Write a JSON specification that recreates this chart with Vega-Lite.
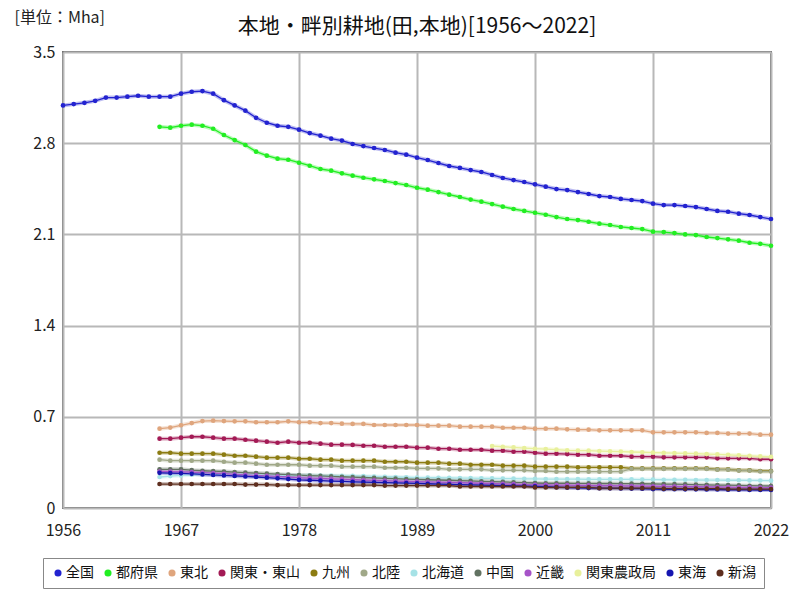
{
  "$schema": "https://vega.github.io/schema/vega-lite/v6.json",
  "autosize": {"type": "none"},
  "width": 708,
  "height": 456,
  "padding": {"left": 63, "top": 52, "right": 29, "bottom": 92},
  "background": "white",
  "title": {"text": "本地・畔別耕地(田,本地)[1956～2022]", "fontSize": 21, "font": "Noto Sans CJK JP", "fontWeight": "normal", "color": "#111", "offset": 0, "dy": 28, "anchor": "middle"},
  "config": {
    "view": {"stroke": "#707070", "strokeWidth": 2},
    "axis": {"labelFont": "Noto Sans CJK JP", "labelFontSize": 16, "labelColor": "#222", "gridColor": "#b8b8b8", "gridWidth": 2, "domain": false, "ticks": false}
  },
  "data": {"values": [
    {"y":1956,"全国":3.09},
    {"y":1957,"全国":3.10},
    {"y":1958,"全国":3.11},
    {"y":1959,"全国":3.125},
    {"y":1960,"全国":3.15},
    {"y":1961,"全国":3.15},
    {"y":1962,"全国":3.157},
    {"y":1963,"全国":3.164},
    {"y":1964,"全国":3.157},
    {"y":1965,"全国":3.157,"都府県":2.926,"東北":0.609,"関東・東山":0.532,"九州":0.424,"北陸":0.371,"北海道":0.238,"中国":0.297,"近畿":0.28,"東海":0.27,"新潟":0.184},
    {"y":1966,"全国":3.157,"都府県":2.919,"東北":0.617,"関東・東山":0.532,"九州":0.424,"北陸":0.363,"北海道":0.245,"中国":0.297,"近畿":0.279,"東海":0.268,"新潟":0.184},
    {"y":1967,"全国":3.18,"都府県":2.934,"東北":0.635,"関東・東山":0.54,"九州":0.417,"北陸":0.363,"北海道":0.25,"中国":0.297,"近畿":0.278,"東海":0.266,"新潟":0.184},
    {"y":1968,"全国":3.195,"都府県":2.942,"東北":0.652,"関東・東山":0.547,"九州":0.417,"北陸":0.363,"北海道":0.255,"中国":0.29,"近畿":0.275,"東海":0.262,"新潟":0.184},
    {"y":1969,"全国":3.2,"都府県":2.934,"東北":0.667,"関東・東山":0.547,"九州":0.417,"北陸":0.363,"北海道":0.259,"中国":0.286,"近畿":0.271,"東海":0.258,"新潟":0.184},
    {"y":1970,"全国":3.18,"都府県":2.911,"東北":0.67,"関東・東山":0.54,"九州":0.417,"北陸":0.363,"北海道":0.259,"中国":0.283,"近畿":0.267,"東海":0.254,"新潟":0.184},
    {"y":1971,"全国":3.13,"都府県":2.863,"東北":0.667,"関東・東山":0.532,"九州":0.409,"北陸":0.355,"北海道":0.259,"中国":0.28,"近畿":0.263,"東海":0.25,"新潟":0.184},
    {"y":1972,"全国":3.09,"都府県":2.824,"東北":0.665,"関東・東山":0.532,"九州":0.401,"北陸":0.348,"北海道":0.259,"中国":0.276,"近畿":0.259,"東海":0.246,"新潟":0.184},
    {"y":1973,"全国":3.05,"都府県":2.786,"東北":0.665,"関東・東山":0.524,"九州":0.401,"北陸":0.348,"北海道":0.257,"中国":0.272,"近畿":0.255,"東海":0.242,"新潟":0.18},
    {"y":1974,"全国":2.995,"都府県":2.735,"東北":0.658,"関東・東山":0.517,"九州":0.394,"北陸":0.34,"北海道":0.255,"中国":0.268,"近畿":0.251,"東海":0.238,"新潟":0.18},
    {"y":1975,"全国":2.957,"都府県":2.704,"東北":0.658,"関東・東山":0.509,"九州":0.386,"北陸":0.332,"北海道":0.253,"中国":0.264,"近畿":0.247,"東海":0.233,"新潟":0.18},
    {"y":1976,"全国":2.934,"都府県":2.681,"東北":0.658,"関東・東山":0.501,"九州":0.386,"北陸":0.332,"北海道":0.252,"中国":0.26,"近畿":0.243,"東海":0.228,"新潟":0.176},
    {"y":1977,"全国":2.926,"都府県":2.673,"東北":0.665,"関東・東山":0.509,"九州":0.386,"北陸":0.332,"北海道":0.251,"中国":0.256,"近畿":0.238,"東海":0.222,"新潟":0.176},
    {"y":1978,"全国":2.904,"都府県":2.65,"東北":0.658,"関東・東山":0.501,"九州":0.378,"北陸":0.332,"北海道":0.251,"中国":0.252,"近畿":0.233,"東海":0.216,"新潟":0.176},
    {"y":1979,"全国":2.878,"都府県":2.627,"東北":0.658,"関東・東山":0.501,"九州":0.378,"北陸":0.325,"北海道":0.25,"中国":0.249,"近畿":0.23,"東海":0.213,"新潟":0.176},
    {"y":1980,"全国":2.858,"都府県":2.602,"東北":0.652,"関東・東山":0.494,"九州":0.371,"北陸":0.325,"北海道":0.249,"中国":0.246,"近畿":0.227,"東海":0.21,"新潟":0.176},
    {"y":1981,"全国":2.835,"都府県":2.589,"東北":0.652,"関東・東山":0.486,"九州":0.371,"北陸":0.325,"北海道":0.248,"中国":0.243,"近畿":0.224,"東海":0.207,"新潟":0.176},
    {"y":1982,"全国":2.82,"都府県":2.569,"東北":0.647,"関東・東山":0.486,"九州":0.363,"北陸":0.317,"北海道":0.247,"中国":0.24,"近畿":0.221,"東海":0.204,"新潟":0.176},
    {"y":1983,"全国":2.794,"都府県":2.551,"東北":0.645,"関東・東山":0.484,"九州":0.363,"北陸":0.317,"北海道":0.246,"中国":0.237,"近畿":0.218,"東海":0.201,"新潟":0.176},
    {"y":1984,"全国":2.778,"都府県":2.535,"東北":0.645,"関東・東山":0.478,"九州":0.363,"北陸":0.317,"北海道":0.244,"中国":0.234,"近畿":0.215,"東海":0.199,"新潟":0.176},
    {"y":1985,"全国":2.763,"都府県":2.523,"東北":0.637,"関東・東山":0.478,"九州":0.363,"北陸":0.317,"北海道":0.242,"中国":0.231,"近畿":0.212,"東海":0.197,"新潟":0.176},
    {"y":1986,"全国":2.748,"都府県":2.51,"東北":0.637,"関東・東山":0.47,"九州":0.355,"北陸":0.309,"北海道":0.24,"中国":0.228,"近畿":0.21,"東海":0.195,"新潟":0.172},
    {"y":1987,"全国":2.727,"都府県":2.494,"東北":0.637,"関東・東山":0.47,"九州":0.355,"北陸":0.309,"北海道":0.238,"中国":0.225,"近畿":0.207,"東海":0.193,"新潟":0.172},
    {"y":1988,"全国":2.712,"都府県":2.479,"東北":0.637,"関東・東山":0.47,"九州":0.355,"北陸":0.309,"北海道":0.236,"中国":0.222,"近畿":0.205,"東海":0.191,"新潟":0.172},
    {"y":1989,"全国":2.689,"都府県":2.458,"東北":0.637,"関東・東山":0.463,"九州":0.348,"北陸":0.304,"北海道":0.233,"中国":0.219,"近畿":0.202,"東海":0.189,"新潟":0.172},
    {"y":1990,"全国":2.671,"都府県":2.443,"東北":0.632,"関東・東山":0.463,"九州":0.348,"北陸":0.304,"北海道":0.233,"中国":0.217,"近畿":0.2,"東海":0.186,"新潟":0.172},
    {"y":1991,"全国":2.648,"都府県":2.425,"東北":0.632,"関東・東山":0.455,"九州":0.348,"北陸":0.304,"北海道":0.232,"中国":0.215,"近畿":0.198,"東海":0.184,"新潟":0.172},
    {"y":1992,"全国":2.625,"都府県":2.405,"東北":0.632,"関東・東山":0.455,"九州":0.34,"北陸":0.297,"北海道":0.231,"中国":0.213,"近畿":0.196,"東海":0.182,"新潟":0.172},
    {"y":1993,"全国":2.61,"都府県":2.387,"東北":0.624,"関東・東山":0.447,"九州":0.34,"北陸":0.297,"北海道":0.23,"中国":0.21,"近畿":0.194,"東海":0.18,"新潟":0.165},
    {"y":1994,"全国":2.594,"都府県":2.367,"東北":0.624,"関東・東山":0.447,"九州":0.332,"北陸":0.297,"北海道":0.229,"中国":0.208,"近畿":0.192,"東海":0.178,"新潟":0.165},
    {"y":1995,"全国":2.579,"都府県":2.351,"東北":0.624,"関東・東山":0.447,"九州":0.332,"北陸":0.297,"北海道":0.228,"中国":0.205,"近畿":0.19,"東海":0.176,"新潟":0.165},
    {"y":1996,"全国":2.556,"都府県":2.333,"東北":0.624,"関東・東山":0.44,"九州":0.332,"北陸":0.289,"北海道":0.227,"中国":0.203,"近畿":0.188,"関東農政局":0.475,"東海":0.174,"新潟":0.165},
    {"y":1997,"全国":2.533,"都府県":2.313,"東北":0.616,"関東・東山":0.44,"九州":0.325,"北陸":0.289,"北海道":0.226,"中国":0.2,"近畿":0.185,"関東農政局":0.47,"東海":0.172,"新潟":0.165},
    {"y":1998,"全国":2.517,"都府県":2.295,"東北":0.616,"関東・東山":0.432,"九州":0.325,"北陸":0.289,"北海道":0.225,"中国":0.197,"近畿":0.183,"関東農政局":0.465,"東海":0.17,"新潟":0.165},
    {"y":1999,"全国":2.502,"都府県":2.28,"東北":0.616,"関東・東山":0.432,"九州":0.325,"北陸":0.289,"北海道":0.224,"中国":0.194,"近畿":0.18,"関東農政局":0.46,"東海":0.168,"新潟":0.165},
    {"y":2000,"全国":2.484,"都府県":2.266,"東北":0.609,"関東・東山":0.424,"九州":0.317,"北陸":0.284,"北海道":0.223,"中国":0.192,"近畿":0.178,"関東農政局":0.455,"東海":0.166,"新潟":0.158},
    {"y":2001,"全国":2.466,"都府県":2.251,"東北":0.609,"関東・東山":0.417,"九州":0.317,"北陸":0.284,"北海道":0.222,"中国":0.19,"近畿":0.177,"関東農政局":0.452,"東海":0.163,"新潟":0.158},
    {"y":2002,"全国":2.448,"都府県":2.233,"東北":0.609,"関東・東山":0.417,"九州":0.317,"北陸":0.279,"北海道":0.222,"中国":0.19,"近畿":0.176,"関東農政局":0.448,"東海":0.16,"新潟":0.158},
    {"y":2003,"全国":2.44,"都府県":2.218,"東北":0.604,"関東・東山":0.414,"九州":0.317,"北陸":0.279,"北海道":0.221,"中国":0.19,"近畿":0.175,"関東農政局":0.443,"東海":0.157,"新潟":0.158},
    {"y":2004,"全国":2.425,"都府県":2.21,"東北":0.601,"関東・東山":0.409,"九州":0.312,"北陸":0.279,"北海道":0.221,"中国":0.189,"近畿":0.174,"関東農政局":0.441,"東海":0.155,"新潟":0.158},
    {"y":2005,"全国":2.41,"都府県":2.197,"東北":0.601,"関東・東山":0.409,"九州":0.312,"北陸":0.279,"北海道":0.22,"中国":0.189,"近畿":0.173,"関東農政局":0.44,"東海":0.153,"新潟":0.158},
    {"y":2006,"全国":2.394,"都府県":2.182,"東北":0.596,"関東・東山":0.401,"九州":0.312,"北陸":0.279,"北海道":0.22,"中国":0.188,"近畿":0.172,"関東農政局":0.437,"東海":0.152,"新潟":0.152},
    {"y":2007,"全国":2.387,"都府県":2.172,"東北":0.596,"関東・東山":0.401,"九州":0.312,"北陸":0.279,"北海道":0.22,"中国":0.188,"近畿":0.171,"関東農政局":0.435,"東海":0.151,"新潟":0.152},
    {"y":2008,"全国":2.372,"都府県":2.157,"東北":0.596,"関東・東山":0.401,"九州":0.312,"北陸":0.279,"北海道":0.219,"中国":0.187,"近畿":0.17,"関東農政局":0.433,"東海":0.15,"新潟":0.152},
    {"y":2009,"全国":2.364,"都府県":2.149,"東北":0.596,"関東・東山":0.394,"九州":0.304,"北陸":0.3,"北海道":0.219,"中国":0.187,"近畿":0.169,"関東農政局":0.43,"東海":0.149,"新潟":0.152},
    {"y":2010,"全国":2.356,"都府県":2.141,"東北":0.596,"関東・東山":0.394,"九州":0.304,"北陸":0.3,"北海道":0.218,"中国":0.186,"近畿":0.168,"関東農政局":0.428,"東海":0.148,"新潟":0.152},
    {"y":2011,"全国":2.336,"都府県":2.121,"東北":0.581,"関東・東山":0.394,"九州":0.304,"北陸":0.3,"北海道":0.218,"中国":0.185,"近畿":0.167,"関東農政局":0.425,"東海":0.145,"新潟":0.152},
    {"y":2012,"全国":2.325,"都府県":2.118,"東北":0.581,"関東・東山":0.389,"九州":0.304,"北陸":0.3,"北海道":0.217,"中国":0.184,"近畿":0.166,"関東農政局":0.423,"東海":0.144,"新潟":0.148},
    {"y":2013,"全国":2.325,"都府県":2.11,"東北":0.581,"関東・東山":0.389,"九州":0.304,"北陸":0.3,"北海道":0.216,"中国":0.183,"近畿":0.165,"関東農政局":0.421,"東海":0.144,"新潟":0.148},
    {"y":2014,"全国":2.318,"都府県":2.1,"東北":0.581,"関東・東山":0.389,"九州":0.304,"北陸":0.3,"北海道":0.216,"中国":0.182,"近畿":0.164,"関東農政局":0.419,"東海":0.143,"新潟":0.148},
    {"y":2015,"全国":2.31,"都府県":2.095,"東北":0.581,"関東・東山":0.389,"九州":0.304,"北陸":0.3,"北海道":0.215,"中国":0.18,"近畿":0.163,"関東農政局":0.417,"東海":0.143,"新潟":0.148},
    {"y":2016,"全国":2.295,"都府県":2.08,"東北":0.576,"関東・東山":0.389,"九州":0.304,"北陸":0.3,"北海道":0.214,"中国":0.178,"近畿":0.162,"関東農政局":0.414,"東海":0.142,"新潟":0.148},
    {"y":2017,"全国":2.28,"都府県":2.072,"東北":0.576,"関東・東山":0.381,"九州":0.297,"北陸":0.294,"北海道":0.214,"中国":0.176,"近畿":0.161,"関東農政局":0.411,"東海":0.142,"新潟":0.148},
    {"y":2018,"全国":2.274,"都府県":2.062,"東北":0.571,"関東・東山":0.381,"九州":0.297,"北陸":0.294,"北海道":0.213,"中国":0.175,"近畿":0.16,"関東農政局":0.408,"東海":0.14,"新潟":0.145},
    {"y":2019,"全国":2.259,"都府県":2.052,"東北":0.571,"関東・東山":0.381,"九州":0.289,"北陸":0.287,"北海道":0.213,"中国":0.173,"近畿":0.159,"関東農政局":0.404,"東海":0.14,"新潟":0.145},
    {"y":2020,"全国":2.249,"都府県":2.036,"東北":0.571,"関東・東山":0.381,"九州":0.289,"北陸":0.287,"北海道":0.212,"中国":0.171,"近畿":0.158,"関東農政局":0.4,"東海":0.139,"新潟":0.145},
    {"y":2021,"全国":2.233,"都府県":2.028,"東北":0.563,"関東・東山":0.374,"九州":0.284,"北陸":0.281,"北海道":0.211,"中国":0.17,"近畿":0.157,"関東農政局":0.396,"東海":0.138,"新潟":0.145},
    {"y":2022,"全国":2.218,"都府県":2.013,"東北":0.563,"関東・東山":0.374,"九州":0.284,"北陸":0.281,"北海道":0.21,"中国":0.169,"近畿":0.156,"関東農政局":0.392,"東海":0.138,"新潟":0.145}
  ]},
  "transform": [
    {"fold": ["全国","都府県","東北","関東・東山","九州","北陸","北海道","中国","近畿","関東農政局","東海","新潟"], "as": ["地域","value"]},
    {"filter": "isValid(datum.value)"}
  ],
  "encoding": {
    "x": {"field": "y", "type": "quantitative",
      "scale": {"domain": [1956, 2022], "nice": false, "zero": false},
      "axis": {"title": null, "values": [1956,1967,1978,1989,2000,2011,2022], "format": "d", "labelPadding": 14, "labelFlush": false}},
    "y": {"field": "value", "type": "quantitative",
      "scale": {"domain": [0, 3.5], "nice": false},
      "axis": {"title": "[単位：Mha]", "titleFont": "Noto Sans CJK JP", "titleFontSize": 16, "titleFontWeight": "normal", "titleColor": "#222", "titleAngle": 0, "titleAlign": "left", "titleBaseline": "middle", "titleX": -49, "titleY": -35,
        "values": [0,0.7,1.4,2.1,2.8,3.5], "format": "~g", "labelPadding": 8}},
    "color": {"field": "地域", "type": "nominal",
      "scale": {"domain": ["全国","都府県","東北","関東・東山","九州","北陸","北海道","中国","近畿","関東農政局","東海","新潟"],
        "range": ["#2323d0","#22ee22","#dfa57d","#a31a55","#8c7c12","#a0a888","#a6e2e6","#627262","#a653c8","#e8f09c","#1515b0","#5e2e1e"]},
      "legend": {"title": null, "orient": "none", "legendX": -20, "legendY": 506, "direction": "horizontal", "columns": 12, "gridAlign": "none",
        "symbolType": "circle", "symbolSize": 50, "symbolOpacity": 1, "labelFont": "Noto Sans CJK JP", "labelFontSize": 14, "labelColor": "#111",
        "labelOffset": 1, "columnPadding": 7, "strokeColor": "#888", "padding": 8, "fillColor": "white",
        "encode": {"symbols": {"update": {"fill": {"scale": "color", "field": "value"}, "strokeWidth": {"value": 0}, "opacity": {"value": 1}}}}}
    }
  },
  "layer": [
    {"mark": {"type": "line", "strokeWidth": 4, "opacity": 0.3}},
    {"mark": {"type": "line", "strokeWidth": 1.3}},
    {"mark": {"type": "point", "filled": true, "size": 22, "opacity": 1}}
  ]
}
